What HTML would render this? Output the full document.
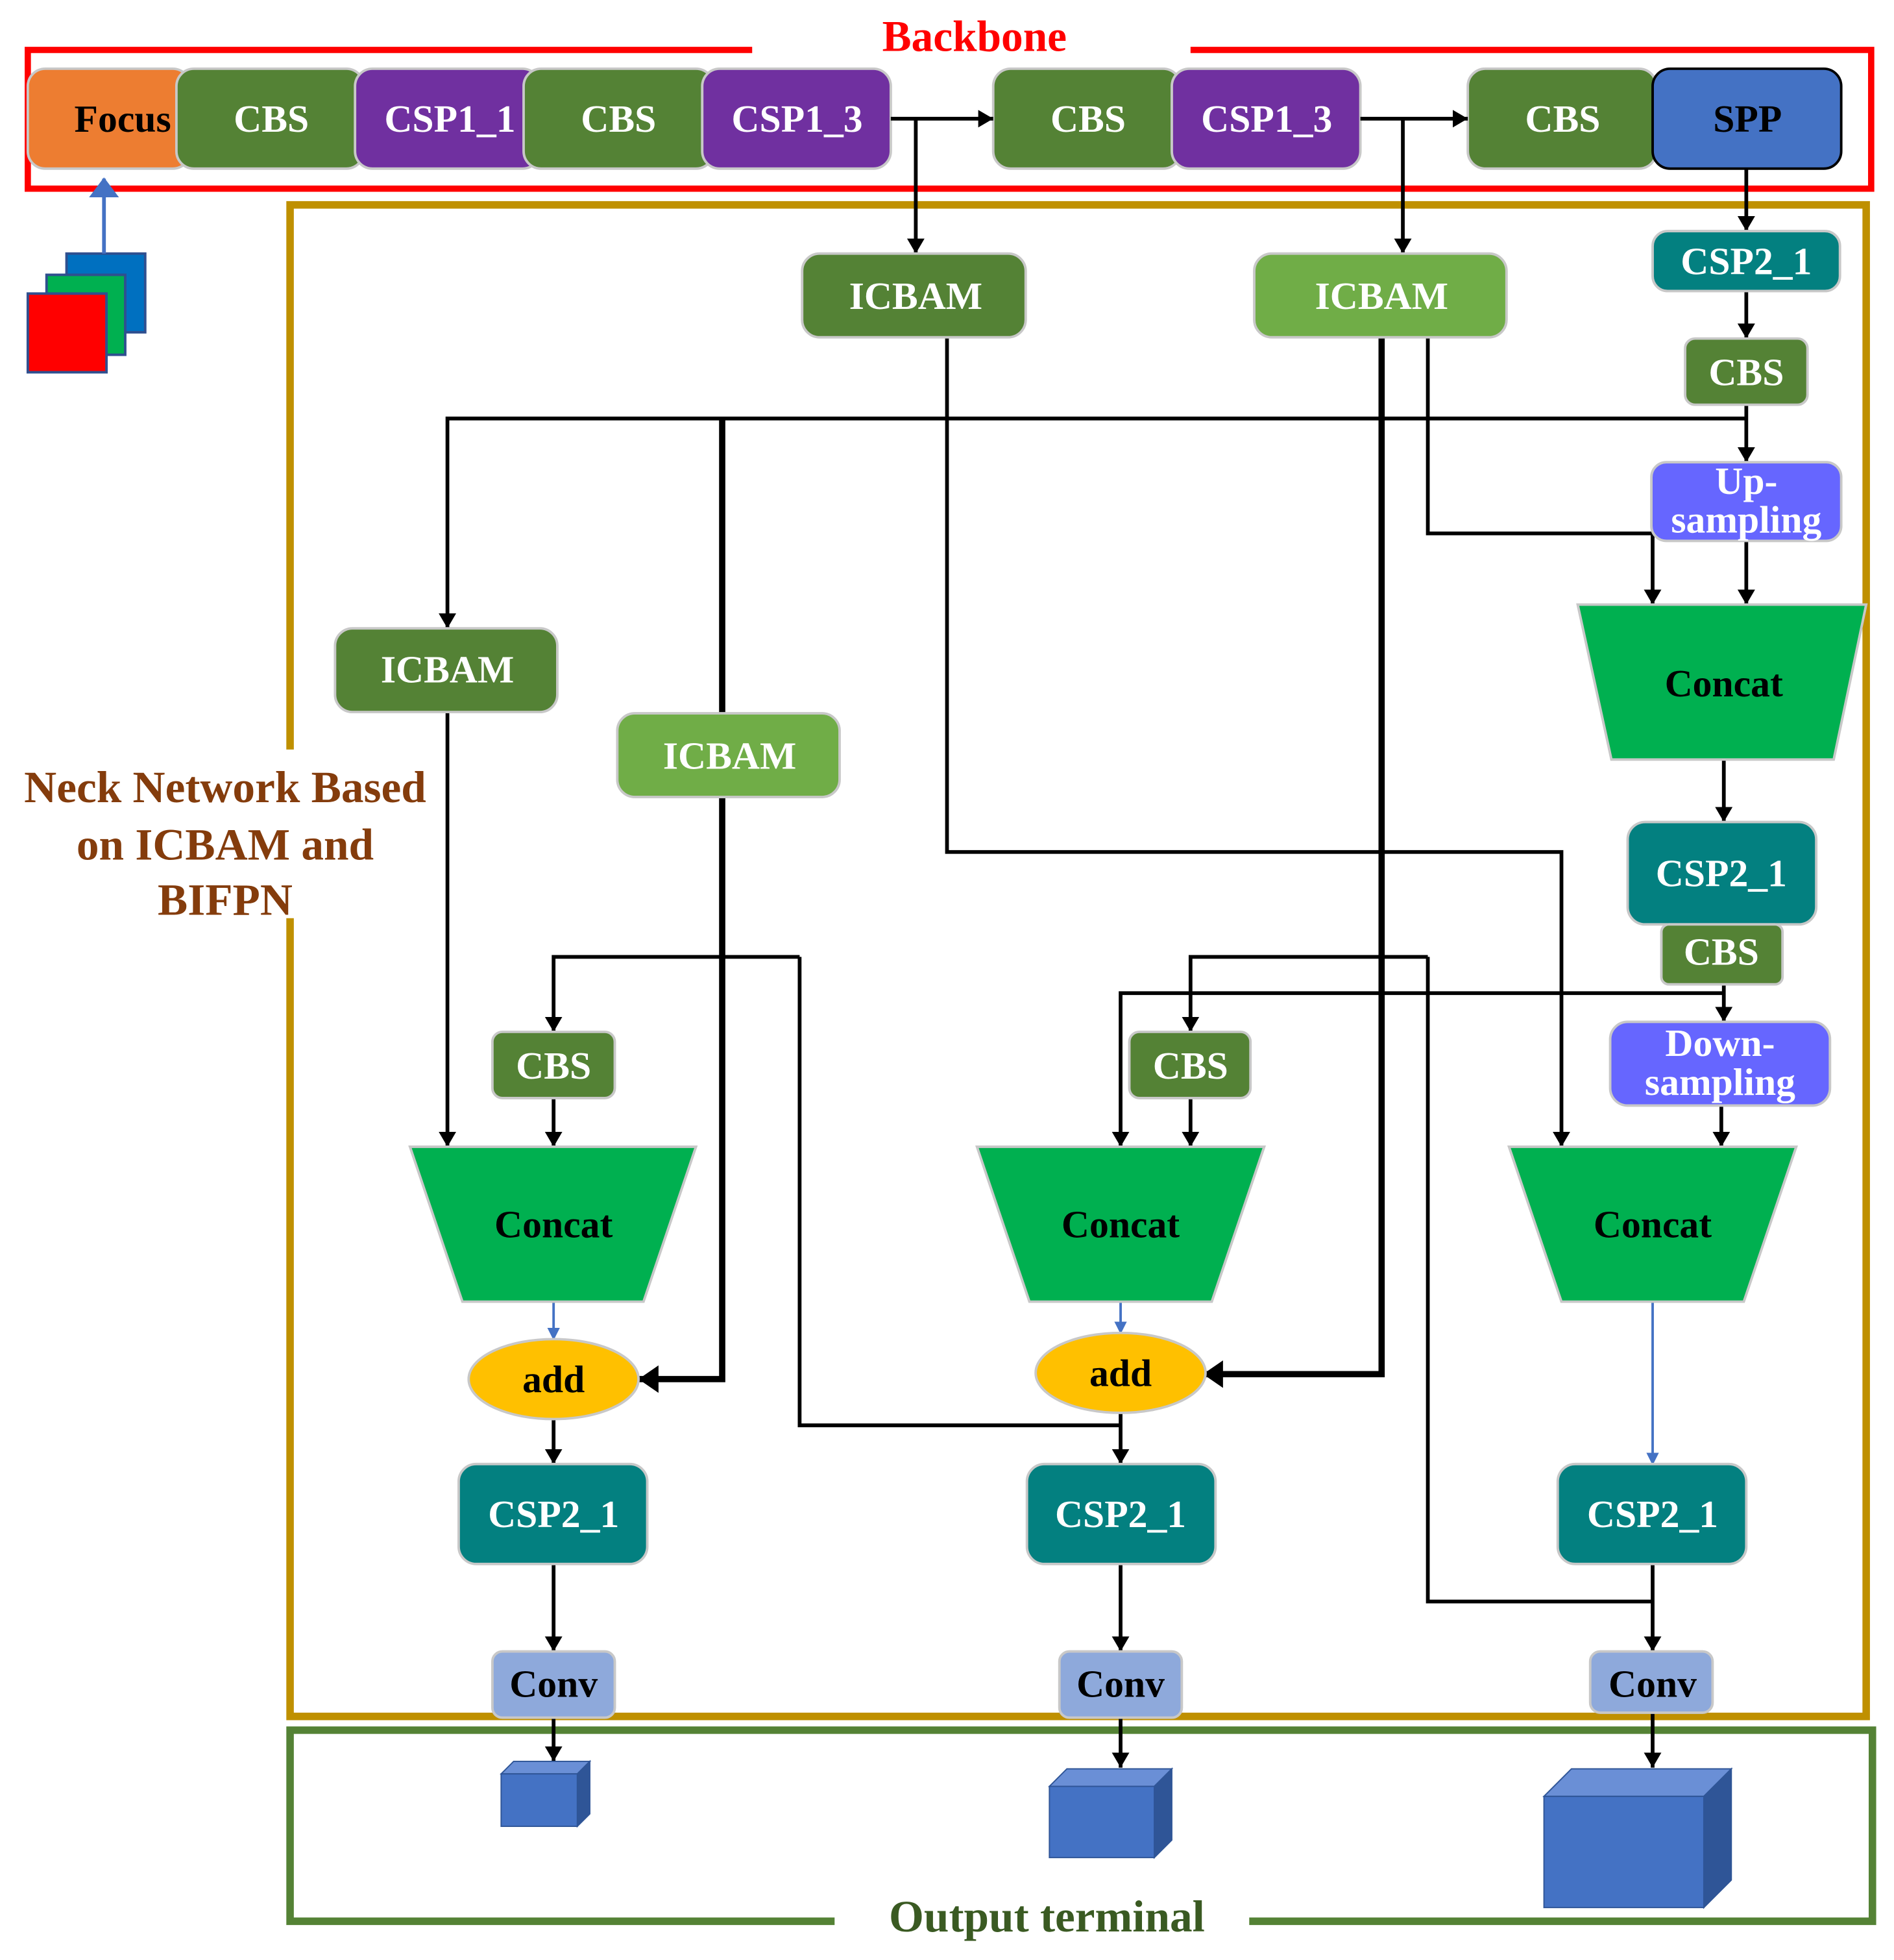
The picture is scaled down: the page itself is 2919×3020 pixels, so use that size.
<!DOCTYPE html>
<html><head><meta charset="utf-8"><style>
html,body{margin:0;padding:0;background:#fff;}
svg{display:block;}
text{font-family:"Liberation Serif",serif;font-weight:bold;text-anchor:middle;dominant-baseline:central;}
</style></head><body>
<svg width="2919" height="3020" viewBox="0 0 1516 1569" xmlns="http://www.w3.org/2000/svg">
<defs>
<marker id="a" markerWidth="12" markerHeight="14" refX="12" refY="7" orient="auto" markerUnits="userSpaceOnUse" viewBox="0 0 12 14"><path d="M0,0 L12,7 L0,14 z" fill="#000"/></marker>
<marker id="a2" markerWidth="16" markerHeight="22" refX="16" refY="11" orient="auto" markerUnits="userSpaceOnUse" viewBox="0 0 16 22"><path d="M0,0 L16,11 L0,22 z" fill="#000"/></marker>
<marker id="b" markerWidth="10" markerHeight="10" refX="9" refY="5" orient="auto" markerUnits="userSpaceOnUse" viewBox="0 0 10 10"><path d="M0,0 L10,5 L0,10 z" fill="#4472C4"/></marker>
<marker id="bb" markerWidth="16" markerHeight="24" refX="15" refY="12" orient="auto" markerUnits="userSpaceOnUse" viewBox="0 0 16 24"><path d="M0,0 L16,12 L0,24 z" fill="#4472C4"/></marker>
</defs>

<path d="M602,40 L22,40 L22,151 L1498,151 L1498,40 L953,40" fill="none" stroke="#f00" stroke-width="5"/>
<text x="780" y="29" font-size="35" fill="#f00">Backbone</text>

<path d="M232,600 L232,164 L1494,164 L1494,1374 L232,1374 L232,735" fill="none" stroke="#BF9000" stroke-width="6"/>
<text x="180" y="630" font-size="36" fill="#843C0C">Neck Network Based</text>
<text x="180" y="676" font-size="36" fill="#843C0C">on ICBAM and</text>
<text x="180" y="720" font-size="36" fill="#843C0C">BIFPN</text>

<path d="M668,1538 L232,1538 L232,1385 L1499,1385 L1499,1538 L1000,1538" fill="none" stroke="#548235" stroke-width="6"/>
<text x="838" y="1534" font-size="36" fill="#3A5A22">Output terminal</text>

<rect x="53" y="203" width="63" height="63" fill="#0070C0" stroke="#2F4F8F" stroke-width="2"/>
<rect x="37" y="220" width="63" height="64" fill="#00B050" stroke="#2F4F8F" stroke-width="2"/>
<rect x="22" y="235" width="63" height="63" fill="#f00" stroke="#2F4F8F" stroke-width="2"/>
<line x1="83" y1="203" x2="83" y2="143" stroke="#4472C4" stroke-width="3" marker-end="url(#bb)"/>

<g stroke="#C8C8C8" stroke-width="2" font-size="30">
<rect x="22" y="55" width="130" height="80" rx="14" fill="#ED7D31"/>
<rect x="141" y="55" width="150" height="80" rx="14" fill="#548235"/>
<rect x="284" y="55" width="148" height="80" rx="14" fill="#7030A0"/>
<rect x="419" y="55" width="152" height="80" rx="14" fill="#548235"/>
<rect x="562" y="55" width="151" height="80" rx="14" fill="#7030A0"/>
<rect x="795" y="55" width="150" height="80" rx="14" fill="#548235"/>
<rect x="938" y="55" width="151" height="80" rx="14" fill="#7030A0"/>
<rect x="1175" y="55" width="151" height="80" rx="14" fill="#548235"/>
<rect x="1323" y="55" width="151" height="80" rx="14" fill="#4472C4" stroke="#000" stroke-width="2"/>
</g>
<g font-size="31" fill="#fff" stroke="none">
<text x="98" y="95" fill="#000">Focus</text>
<text x="217" y="95">CBS</text>
<text x="360" y="95">CSP1_1</text>
<text x="495" y="95">CBS</text>
<text x="638" y="95">CSP1_3</text>
<text x="871" y="95">CBS</text>
<text x="1014" y="95">CSP1_3</text>
<text x="1251" y="95">CBS</text>
<text x="1399" y="95" fill="#000">SPP</text>
</g>

<g fill="none" stroke="#000" stroke-width="3">
<line x1="713" y1="95" x2="795" y2="95" marker-end="url(#a)"/>
<line x1="1089" y1="95" x2="1175" y2="95" marker-end="url(#a)"/>
<line x1="733" y1="95" x2="733" y2="203" marker-end="url(#a)"/>
<line x1="1123" y1="95" x2="1123" y2="203" marker-end="url(#a)"/>
<line x1="1398" y1="135" x2="1398" y2="185" marker-end="url(#a)"/>
<line x1="1398" y1="233" x2="1398" y2="271" marker-end="url(#a)"/>
<line x1="1398" y1="324" x2="1398" y2="370" marker-end="url(#a)"/>
<polyline points="1398,335 358,335 358,503" marker-end="url(#a)"/>
<polyline points="758,270 758,682 1250,682 1250,918" marker-end="url(#a)"/>
<polyline points="1143,270 1143,427 1323,427 1323,484" marker-end="url(#a)"/>
<line x1="1398" y1="433" x2="1398" y2="484" marker-end="url(#a)"/>
<line x1="1380" y1="608" x2="1380" y2="658" marker-end="url(#a)"/>
<line x1="1380" y1="788" x2="1380" y2="818" marker-end="url(#a)"/>
<line x1="1378" y1="885" x2="1378" y2="918" marker-end="url(#a)"/>
<polyline points="1380,795 897,795 897,918" marker-end="url(#a)"/>
<polyline points="1143,766 953,766 953,826" marker-end="url(#a)"/>
<polyline points="1143,766 1143,1282 1323,1282"/>
<line x1="1323" y1="1252" x2="1323" y2="1322" marker-end="url(#a)"/>
<polyline points="640,766 443,766 443,826" marker-end="url(#a)"/>
<polyline points="640,766 640,1141 897,1141"/>
<line x1="897" y1="1131" x2="897" y2="1172" marker-end="url(#a)"/>
<line x1="358" y1="570" x2="358" y2="918" marker-end="url(#a)"/>
<line x1="443" y1="879" x2="443" y2="918" marker-end="url(#a)"/>
<line x1="953" y1="879" x2="953" y2="918" marker-end="url(#a)"/>
<line x1="443" y1="1136" x2="443" y2="1172" marker-end="url(#a)"/>
<line x1="443" y1="1252" x2="443" y2="1322" marker-end="url(#a)"/>
<line x1="897" y1="1252" x2="897" y2="1322" marker-end="url(#a)"/>
<line x1="443" y1="1375" x2="443" y2="1410" marker-end="url(#a)"/>
<line x1="897" y1="1375" x2="897" y2="1415" marker-end="url(#a)"/>
<line x1="1323" y1="1371" x2="1323" y2="1415" marker-end="url(#a)"/>
</g>
<g fill="none" stroke="#000" stroke-width="5">
<polyline points="578,335 578,1104 511,1104" marker-end="url(#a2)"/>
<polyline points="1106,270 1106,1100 963,1100" marker-end="url(#a2)"/>
</g>
<g stroke="#4472C4" stroke-width="2" fill="none">
<line x1="443" y1="1042" x2="443" y2="1072" marker-end="url(#b)"/>
<line x1="897" y1="1042" x2="897" y2="1067" marker-end="url(#b)"/>
<line x1="1323" y1="1042" x2="1323" y2="1172" marker-end="url(#b)"/>
</g>

<g stroke="#C8C8C8" stroke-width="2">
<rect x="642" y="203" width="179" height="67" rx="14" fill="#548235"/>
<rect x="1004" y="203" width="202" height="67" rx="14" fill="#70AD47"/>
<rect x="1323" y="185" width="150" height="48" rx="12" fill="#038080"/>
<rect x="1349" y="271" width="98" height="53" rx="8" fill="#548235"/>
<rect x="1322" y="370" width="152" height="63" rx="12" fill="#6666FF"/>
<polygon points="1263,484 1494,484 1468,608 1290,608" fill="#00B050"/>
<rect x="1303" y="658" width="151" height="82" rx="14" fill="#038080"/>
<rect x="1330" y="740" width="97" height="48" rx="6" fill="#548235"/>
<rect x="1289" y="818" width="176" height="67" rx="14" fill="#6666FF"/>
<rect x="268" y="503" width="178" height="67" rx="14" fill="#548235"/>
<rect x="494" y="571" width="178" height="67" rx="14" fill="#70AD47"/>
<rect x="394" y="826" width="98" height="53" rx="8" fill="#548235"/>
<rect x="904" y="826" width="97" height="53" rx="8" fill="#548235"/>
<polygon points="328,918 557,918 515,1042 370,1042" fill="#00B050"/>
<polygon points="782,918 1012,918 970,1042 824,1042" fill="#00B050"/>
<polygon points="1208,918 1438,918 1396,1042 1250,1042" fill="#00B050"/>
<ellipse cx="443" cy="1104" rx="68" ry="32" fill="#FFC000"/>
<ellipse cx="897" cy="1099" rx="68" ry="32" fill="#FFC000"/>
<rect x="367" y="1172" width="151" height="80" rx="14" fill="#038080"/>
<rect x="822" y="1172" width="151" height="80" rx="14" fill="#038080"/>
<rect x="1247" y="1172" width="151" height="80" rx="14" fill="#038080"/>
<rect x="394" y="1322" width="98" height="53" rx="8" fill="#8EA9DB"/>
<rect x="848" y="1322" width="98" height="53" rx="8" fill="#8EA9DB"/>
<rect x="1273" y="1322" width="98" height="49" rx="8" fill="#8EA9DB"/>
</g>
<g font-size="31" fill="#fff">
<text x="733" y="237">ICBAM</text>
<text x="1106" y="237">ICBAM</text>
<text x="1398" y="209">CSP2_1</text>
<text x="1398" y="298">CBS</text>
<text x="1398" y="385">Up-</text>
<text x="1398" y="416">sampling</text>
<text x="1380" y="547" fill="#000">Concat</text>
<text x="1378" y="699">CSP2_1</text>
<text x="1378" y="762">CBS</text>
<text x="1377" y="835">Down-</text>
<text x="1377" y="866">sampling</text>
<text x="358" y="536">ICBAM</text>
<text x="584" y="605">ICBAM</text>
<text x="443" y="853">CBS</text>
<text x="953" y="853">CBS</text>
<text x="443" y="980" fill="#000">Concat</text>
<text x="897" y="980" fill="#000">Concat</text>
<text x="1323" y="980" fill="#000">Concat</text>
<text x="443" y="1104" fill="#000">add</text>
<text x="897" y="1099" fill="#000">add</text>
<text x="443" y="1212">CSP2_1</text>
<text x="897" y="1212">CSP2_1</text>
<text x="1323" y="1212">CSP2_1</text>
<text x="443" y="1348" fill="#000">Conv</text>
<text x="897" y="1348" fill="#000">Conv</text>
<text x="1323" y="1348" fill="#000">Conv</text>
</g>

<g stroke="#2F5597" stroke-width="1">
<polygon points="401,1420 411,1410 472,1410 462,1420" fill="#6A8FD6"/>
<polygon points="462,1420 472,1410 472,1452 462,1462" fill="#2F5597"/>
<rect x="401" y="1420" width="61" height="42" fill="#4472C4"/>
<polygon points="840,1430 854,1416 938,1416 924,1430" fill="#6A8FD6"/>
<polygon points="924,1430 938,1416 938,1473 924,1487" fill="#2F5597"/>
<rect x="840" y="1430" width="84" height="57" fill="#4472C4"/>
<polygon points="1236,1438 1258,1416 1386,1416 1364,1438" fill="#6A8FD6"/>
<polygon points="1364,1438 1386,1416 1386,1505 1364,1527" fill="#2F5597"/>
<rect x="1236" y="1438" width="128" height="89" fill="#4472C4"/>
</g>
</svg>
</body></html>
